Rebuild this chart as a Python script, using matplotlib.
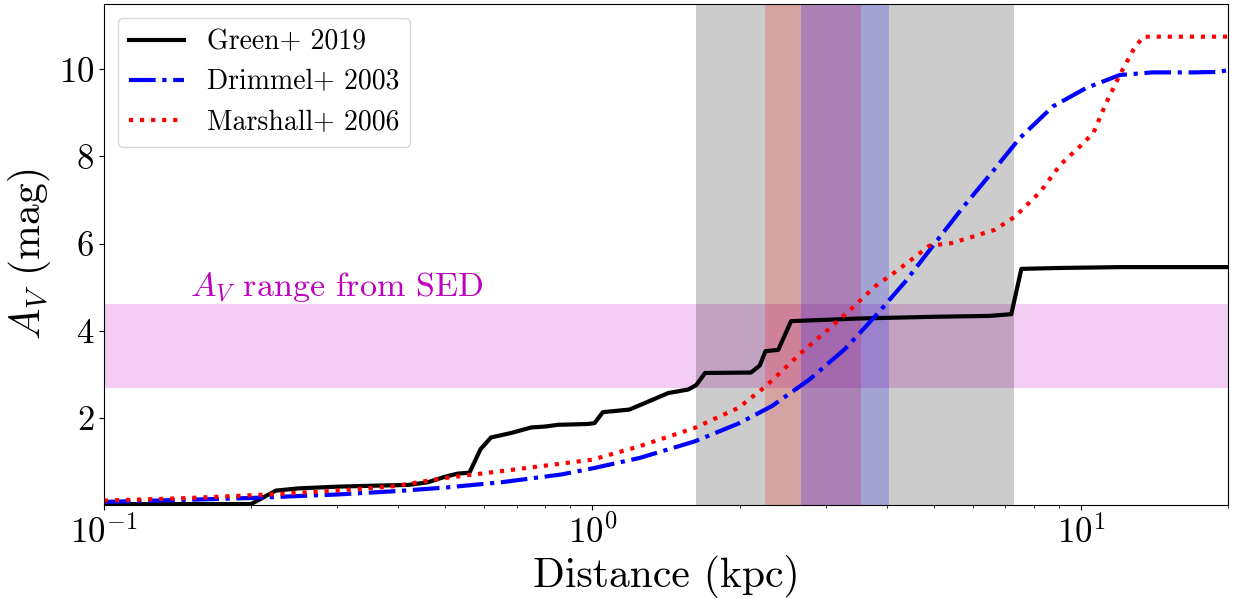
import matplotlib
matplotlib.use("Agg")
import numpy as np
import matplotlib.pyplot as plt

plt.rcParams["font.family"] = "serif"
plt.rcParams["font.serif"] = ["cmr10"]
plt.rcParams["mathtext.fontset"] = "cm"
plt.rcParams["axes.formatter.use_mathtext"] = True
plt.rcParams["axes.unicode_minus"] = False

# Green+ 2019 (Bayestar) extinction profile
green_d = [0.100, 0.200, 0.225, 0.25, 0.30, 0.35, 0.42, 0.46, 0.50, 0.53, 0.56,
           0.59, 0.62, 0.68, 0.75, 0.80, 0.85, 0.92, 0.98, 1.01, 1.05, 1.19,
           1.28, 1.43, 1.57, 1.63, 1.70, 2.11, 2.20, 2.26, 2.40, 2.55,
           3.00, 3.50, 5.00, 6.50, 7.20, 7.55, 9.00, 12.0, 20.0]
green_av = [0.02, 0.02, 0.33, 0.38, 0.42, 0.44, 0.46, 0.52, 0.65, 0.72, 0.74,
            1.28, 1.55, 1.65, 1.78, 1.80, 1.84, 1.85, 1.86, 1.88, 2.13, 2.19,
            2.34, 2.57, 2.65, 2.75, 3.03, 3.04, 3.20, 3.53, 3.56, 4.22,
            4.25, 4.28, 4.32, 4.34, 4.38, 5.42, 5.44, 5.46, 5.46]

# Drimmel+ 2003
drimmel_d = [0.1, 0.15, 0.2, 0.3, 0.4, 0.5, 0.65, 0.864, 1.0, 1.25, 1.62, 2.0,
             2.33, 2.78, 3.28, 3.79, 4.37, 4.97, 5.72, 6.6, 7.49, 8.76, 10.24,
             12.0, 14.0, 17.0, 19.0, 20.0]
drimmel_av = [0.07, 0.12, 0.16, 0.24, 0.32, 0.40, 0.52, 0.70, 0.84, 1.08, 1.46,
              1.88, 2.27, 2.88, 3.57, 4.33, 5.13, 5.94, 6.82, 7.66, 8.42, 9.15,
              9.57, 9.87, 9.93, 9.93, 9.94, 9.98]

# Marshall+ 2006
marshall_d = [0.1, 0.15, 0.216, 0.3, 0.392, 0.5, 0.7, 0.864, 1.0, 1.25, 1.62,
              1.99, 2.26, 2.66, 3.04, 3.40, 3.79, 4.11, 4.46, 4.89, 5.43, 5.97,
              6.67, 7.33, 8.27, 9.07, 9.95, 10.6, 11.25, 12.0, 12.8, 13.4, 20.0]
marshall_av = [0.1, 0.16, 0.24, 0.33, 0.43, 0.62, 0.82, 0.95, 1.04, 1.35, 1.77,
               2.23, 2.72, 3.47, 4.03, 4.52, 5.02, 5.30, 5.60, 5.95, 6.01, 6.15,
               6.32, 6.62, 7.20, 7.81, 8.23, 8.54, 9.22, 9.87, 10.45, 10.75, 10.75]

# shaded ranges
sed_av_range = (2.69, 4.62)
gray_d_range = (1.63, 7.29)
red_d_range = (2.256, 3.55)
blue_d_range = (2.674, 4.05)


def main():
    fig = plt.figure(figsize=(12.33, 5.99), dpi=100)
    ax = fig.add_axes([0.0843, 0.157, 0.9117, 0.8363])

    ax.axhspan(*sed_av_range, color="m", alpha=0.2, lw=0)
    ax.axvspan(*gray_d_range, color="k", alpha=0.2, lw=0)
    ax.axvspan(*red_d_range, color="r", alpha=0.2, lw=0)
    ax.axvspan(*blue_d_range, color="b", alpha=0.2, lw=0)

    ax.plot(green_d, green_av, "k-", lw=3, label="Green+ 2019")
    ax.plot(drimmel_d, drimmel_av, "b-.", lw=3, label="Drimmel+ 2003")
    ax.plot(marshall_d, marshall_av, "r:", lw=3, label="Marshall+ 2006")

    ax.text(0.15, 4.78, r"$A_V$ range from SED", color="m", fontsize=24.5,
            va="baseline")

    ax.set_xscale("log")
    ax.set_xlim(0.1, 20)
    ax.set_ylim(0, 11.5)
    ax.set_yticks([2, 4, 6, 8, 10])
    ax.tick_params(labelsize=25)
    ax.set_xlabel("Distance (kpc)", fontsize=30)
    ax.set_ylabel(r"$A_V$ (mag)", fontsize=30)
    ax.legend(loc="upper left", fontsize=20)

    fig.savefig("out.png", dpi=100)


if __name__ == "__main__":
    main()
